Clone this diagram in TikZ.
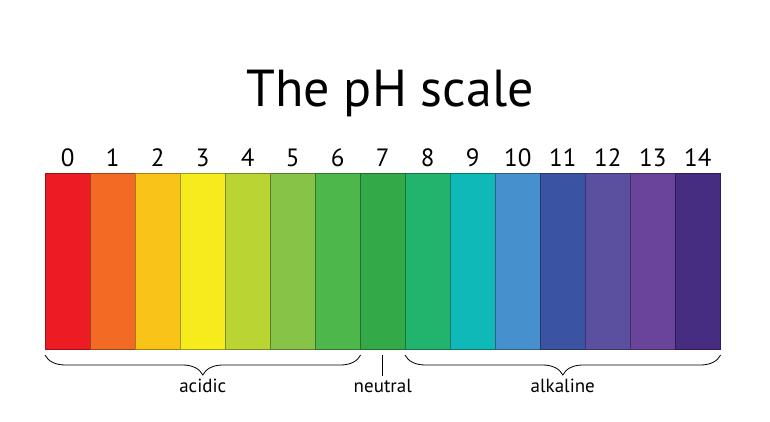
\documentclass[tikz,border=0pt]{standalone}
\usepackage{fontspec}
\setmainfont{PT Sans}
\usetikzlibrary{positioning,decorations.pathreplacing}

\definecolor{ph0}{HTML}{ED1C24}
\definecolor{ph1}{HTML}{F26A24}
\definecolor{ph2}{HTML}{FAC318}
\definecolor{ph3}{HTML}{F6EB1C}
\definecolor{ph4}{HTML}{BAD433}
\definecolor{ph5}{HTML}{86C346}
\definecolor{ph6}{HTML}{4DB74B}
\definecolor{ph7}{HTML}{33A947}
\definecolor{ph8}{HTML}{22B36D}
\definecolor{ph9}{HTML}{0EB9B7}
\definecolor{ph10}{HTML}{4690CD}
\definecolor{ph11}{HTML}{3A53A3}
\definecolor{ph12}{HTML}{5B50A0}
\definecolor{ph13}{HTML}{6A449B}
\definecolor{ph14}{HTML}{472D82}

\tikzset{
  phbar/.style={minimum width=45pt, minimum height=176pt, inner sep=0pt, line width=0.6pt, anchor=south west},
  phnum/.style={font=\fontsize{25}{27}\selectfont, anchor=base},
  phlabel/.style={font=\fontsize{19}{21}\selectfont, anchor=base},
  phbrace/.style={decorate, decoration={brace, amplitude=20pt}, line width=0.8pt}
}

\begin{document}
\begin{tikzpicture}[x=1pt, y=1pt]
                            \useasboundingbox (0,0) rectangle (770,422);

                            \node[font=\fontsize{52}{56}\selectfont, anchor=base] (title) at (390,315) {The pH scale};

                            \foreach \i in {0,...,14}{
                              \node[phbar, fill=ph\i, draw=ph\i!65!black] (bar\i) at (45+45*\i,72) {};
                              \node[phnum] (num\i) at ([yshift=7pt]bar\i.north) {\i};
                            }

                            \coordinate (acidL) at ([yshift=-5pt]bar0.south west);
                            \coordinate (acidR) at ([yshift=-5pt]bar6.south east);
                            \coordinate (alkL) at ([yshift=-5pt]bar8.south west);
                            \coordinate (alkR) at ([yshift=-5pt]bar14.south east);
                            \coordinate (neuT) at ([yshift=-5pt]bar7.south);

                            \draw[phbrace] (acidR) -- (acidL) node[phlabel, midway, yshift=-38pt] (acidic) {acidic};
                            \draw[phbrace] (alkR) -- (alkL) node[phlabel, midway, yshift=-38pt] (alkaline) {alkaline};
                            \node[phlabel] (neutral) at ([yshift=-38pt]neuT) {neutral};
                            \draw[line width=0.8pt] (neuT) -- (neutral.north);
                        \end{tikzpicture}
\end{document}
